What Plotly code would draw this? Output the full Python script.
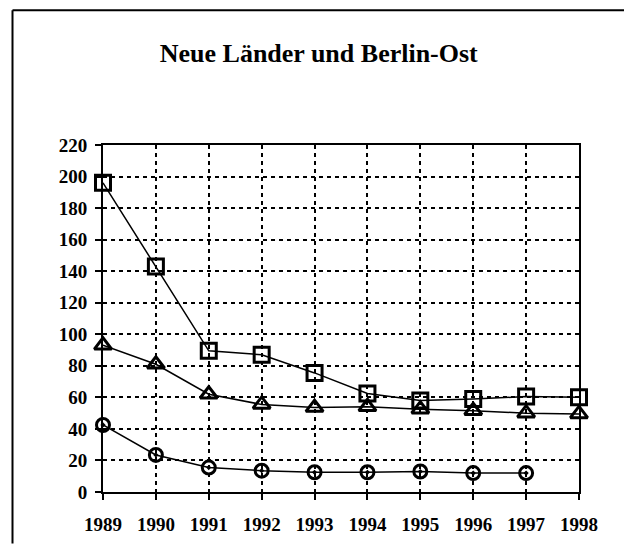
import plotly.graph_objects as go

years = [1989, 1990, 1991, 1992, 1993, 1994, 1995, 1996, 1997, 1998]
series_square = [196, 143, 89.5, 87, 75.5, 62.5, 58, 59, 60.5, 60]
series_triangle = [93, 81, 62, 55.5, 53.5, 54, 52.5, 51.5, 50, 49.5]
series_circle = [42.5, 23.5, 15.5, 13.5, 12.5, 12.5, 13, 12, 12, None]
y_ticks = list(range(0, 221, 20))
title_text = "Neue Länder und Berlin-Ost"

FONT = "Liberation Serif"

fig = go.Figure()

def add(vals, symbol, size):
    fig.add_trace(go.Scatter(
        x=years, y=vals, mode="lines+markers",
        line=dict(color="black", width=1.5),
        marker=dict(symbol=symbol, size=size, color="black",
                    line=dict(color="black", width=3)),
        cliponaxis=False, showlegend=False,
    ))

add(series_square, "square-open", 15)
add(series_triangle, "triangle-up-open", 15)
add(series_circle, "circle-open-dot", 13)

L, R, T, B = 103, 46, 145, 52
W, H = 625, 547
pw, ph = W - L - R, H - T - B

def px_x(p):
    return (p - L) / pw

def px_y(p):
    return (H - B - p) / ph

fig.update_layout(
    width=W, height=H,
    margin=dict(l=L, r=R, t=T, b=B),
    paper_bgcolor="white", plot_bgcolor="white",
    font=dict(family=FONT, color="black"),
    title=dict(text="<b>" + title_text + "</b>", x=0.51, xanchor="center",
               y=1 - 53 / H, yanchor="middle",
               font=dict(family=FONT, size=26, color="black")),
    shapes=[
        dict(type="line", xref="paper", yref="paper",
             x0=px_x(12.5), y0=px_y(547), x1=px_x(12.5), y1=px_y(9),
             line=dict(color="black", width=2)),
        dict(type="line", xref="paper", yref="paper",
             x0=px_x(12.5), y0=px_y(9), x1=px_x(624), y1=px_y(9),
             line=dict(color="black", width=2)),
    ],
)

fig.update_xaxes(
    range=[1989, 1998], tickmode="array", tickvals=years,
    ticktext=["<b>%d</b>" % y for y in years],
    tickfont=dict(family=FONT, size=19, color="black"),
    showline=True, linecolor="black", linewidth=2, mirror=True,
    ticks="outside", ticklen=6, tickwidth=1.5, tickcolor="black",
    showgrid=True, gridcolor="black", gridwidth=1.5, griddash="4px,4px",
    zeroline=False, ticklabelstandoff=8,
)
fig.update_yaxes(
    range=[0, 220], tickmode="array", tickvals=y_ticks,
    ticktext=["<b>%d</b>" % v for v in y_ticks],
    tickfont=dict(family=FONT, size=19, color="black"),
    showline=True, linecolor="black", linewidth=2, mirror=True,
    ticks="outside", ticklen=6, tickwidth=1.5, tickcolor="black",
    showgrid=True, gridcolor="black", gridwidth=1.5, griddash="4px,4px",
    zeroline=False, ticklabelstandoff=4,
)

fig.write_html(
    "out.html",
    config={"displayModeBar": False},
    post_script=["document.body.style.margin='0';document.body.style.overflow='hidden';"],
)
